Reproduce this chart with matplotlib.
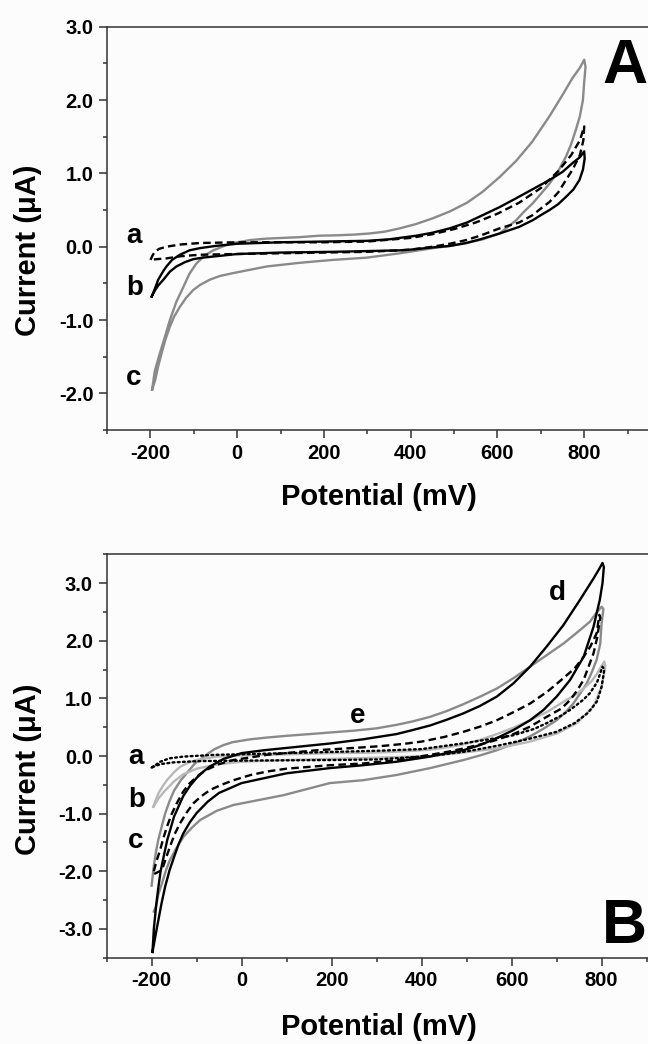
import matplotlib
matplotlib.use("Agg")
import matplotlib.pyplot as plt
from matplotlib.ticker import MultipleLocator, FormatStrFormatter

plt.rcParams['font.family'] = ['Liberation Sans', 'DejaVu Sans']
plt.rcParams['font.weight'] = 'bold'
plt.rcParams['axes.unicode_minus'] = False

# ---------------- Panel A data (potential in mV, current in uA) ----------------
a1_fx = [-200, -195, -190, -180, -163, -130, -86, 0, 100, 200, 300, 400, 450, 500, 550, 600, 650, 700, 740, 770, 790, 800]
a1_fy = [-0.18, -0.12, -0.07, -0.03, 0.0, 0.03, 0.05, 0.06, 0.06, 0.06, 0.07, 0.12, 0.17, 0.24, 0.33, 0.45, 0.6, 0.8, 1.03, 1.25, 1.45, 1.64]
a1_rx = [798, 790, 773, 758, 740, 720, 700, 681, 650, 605, 560, 528, 490, 451, 400, 375, 300, 200, 100, 0, -86, -130, -163, -185, -200]
a1_ry = [1.45, 1.25, 1.05, 0.91, 0.74, 0.61, 0.52, 0.43, 0.33, 0.25, 0.15, 0.09, 0.04, 0.0, -0.04, -0.05, -0.07, -0.08, -0.09, -0.1, -0.11, -0.13, -0.16, -0.17, -0.18]

b1_fx = [-197, -190, -182, -170, -163, -150, -132, -110, -86, -50, 0, 100, 200, 300, 350, 413, 450, 490, 530, 566, 605, 643, 680, 720, 750, 773, 790, 800]
b1_fy = [-0.68, -0.58, -0.45, -0.33, -0.27, -0.18, -0.11, -0.05, -0.02, 0.01, 0.04, 0.06, 0.07, 0.08, 0.1, 0.15, 0.19, 0.25, 0.33, 0.43, 0.54, 0.66, 0.78, 0.91, 1.02, 1.14, 1.22, 1.3]
b1_rx = [801, 797, 789, 775, 758, 740, 720, 700, 681, 650, 605, 560, 528, 490, 451, 400, 375, 300, 221, 100, 0, -48, -80, -101, -120, -140, -155, -170, -182, -190, -197]
b1_ry = [1.2, 1.05, 0.91, 0.78, 0.68, 0.58, 0.5, 0.43, 0.36, 0.27, 0.18, 0.1, 0.05, 0.01, -0.01, -0.04, -0.05, -0.06, -0.07, -0.08, -0.1, -0.13, -0.15, -0.17, -0.21, -0.27, -0.34, -0.45, -0.53, -0.6, -0.68]

c1_fx = [-196, -190, -178, -165, -155, -140, -124, -110, -94, -75, -55, -30, -9, 30, 68, 144, 190, 230, 270, 305, 340, 375, 413, 450, 490, 530, 566, 605, 643, 680, 720, 750, 773, 790, 800]
c1_fy = [-1.95, -1.7, -1.45, -1.2, -1.0, -0.75, -0.55, -0.37, -0.23, -0.12, -0.05, 0.01, 0.05, 0.09, 0.11, 0.13, 0.15, 0.155, 0.165, 0.18, 0.205, 0.25, 0.31, 0.385, 0.48, 0.6, 0.75, 0.95, 1.17, 1.43, 1.78, 2.07, 2.3, 2.44, 2.55]
c1_rx = [803, 800, 797, 790, 781, 770, 758, 740, 720, 700, 681, 660, 643, 605, 566, 528, 490, 451, 375, 298, 221, 144, 68, -9, -40, -63, -85, -101, -118, -132, -145, -155, -165, -174, -182, -189, -196]
c1_ry = [2.45, 2.25, 2.0, 1.78, 1.6, 1.4, 1.23, 1.03, 0.86, 0.72, 0.59, 0.47, 0.36, 0.18, 0.1, 0.05, 0.01, -0.02, -0.09, -0.15, -0.18, -0.22, -0.27, -0.36, -0.4, -0.45, -0.52, -0.59, -0.7, -0.82, -0.95, -1.09, -1.26, -1.45, -1.63, -1.82, -1.95]

# ---------------- Panel B data ----------------
a2_fx = [-200, -190, -181, -160, -129, -60, 0, 100, 196, 300, 400, 493, 550, 604, 650, 678, 710, 730, 760, 774, 790, 802]
a2_fy = [-0.2, -0.15, -0.1, -0.04, -0.01, 0.02, 0.03, 0.05, 0.07, 0.09, 0.12, 0.22, 0.29, 0.36, 0.47, 0.57, 0.7, 0.8, 0.98, 1.09, 1.28, 1.55]
a2_rx = [806, 800, 790, 770, 740, 700, 640, 570, 500, 420, 300, 200, 100, 0, -100, -150, -180, -200]
a2_ry = [1.5, 1.2, 0.95, 0.75, 0.57, 0.42, 0.3, 0.18, 0.08, 0.0, -0.06, -0.07, -0.075, -0.08, -0.09, -0.11, -0.14, -0.2]

b2_fx = [-196, -190, -185, -175, -166, -150, -137, -120, -100, -55, 0, 100, 200, 300, 360, 419, 456, 493, 530, 567, 604, 641, 680, 715, 740, 760, 778, 790, 806]
b2_fy = [-0.88, -0.75, -0.65, -0.52, -0.42, -0.28, -0.19, -0.12, -0.07, -0.01, 0.01, 0.03, 0.05, 0.06, 0.08, 0.11, 0.15, 0.2, 0.28, 0.38, 0.49, 0.62, 0.77, 0.94, 1.05, 1.17, 1.3, 1.43, 1.64]
b2_rx = [808, 800, 782, 745, 700, 641, 567, 493, 419, 300, 200, 100, 0, -50, -100, -130, -150, -170, -185, -196]
b2_ry = [1.55, 1.2, 0.86, 0.57, 0.39, 0.25, 0.13, 0.06, 0.0, -0.03, -0.05, -0.07, -0.1, -0.14, -0.22, -0.32, -0.44, -0.6, -0.74, -0.88]

c2_fx = [-195, -189, -181, -174, -166, -155, -144, -130, -115, -95, -78, -50, -18, 56, 167, 250, 307, 360, 400, 450, 493, 530, 567, 604, 641, 680, 715, 740, 760, 775, 789, 795]
c2_fy = [-2.0, -1.82, -1.63, -1.43, -1.23, -1.0, -0.82, -0.62, -0.47, -0.33, -0.24, -0.14, -0.07, 0.02, 0.1, 0.14, 0.17, 0.21, 0.25, 0.33, 0.42, 0.51, 0.62, 0.76, 0.91, 1.12, 1.35, 1.52, 1.72, 1.9, 2.13, 2.45]
c2_rx = [797, 790, 782, 771, 760, 745, 730, 710, 678, 641, 604, 567, 530, 493, 456, 419, 344, 270, 196, 100, 56, 20, -18, -45, -70, -90, -107, -122, -137, -149, -159, -168, -177, -195]
c2_ry = [2.4, 2.05, 1.78, 1.55, 1.32, 1.13, 0.97, 0.82, 0.68, 0.51, 0.38, 0.28, 0.2, 0.13, 0.07, 0.02, -0.07, -0.13, -0.16, -0.22, -0.27, -0.33, -0.42, -0.5, -0.59, -0.7, -0.82, -0.98, -1.17, -1.36, -1.57, -1.77, -1.98, -2.05]

d2_fx = [-198, -195, -190, -185, -180, -172, -165, -150, -130, -115, -100, -85, -70, -40, 0, 50, 100, 150, 200, 270, 344, 380, 419, 456, 493, 530, 567, 604, 641, 678, 715, 752, 782, 795, 802]
d2_fy = [-3.4, -3.0, -2.6, -2.28, -2.0, -1.7, -1.45, -1.05, -0.7, -0.52, -0.38, -0.27, -0.18, -0.05, 0.05, 0.1, 0.14, 0.18, 0.22, 0.29, 0.38, 0.45, 0.53, 0.63, 0.74, 0.87, 1.03, 1.26, 1.55, 1.9, 2.27, 2.71, 3.08, 3.25, 3.35]
d2_rx = [805, 802, 796, 782, 760, 730, 700, 671, 641, 604, 567, 530, 493, 456, 419, 344, 270, 196, 100, 0, -50, -75, -100, -115, -130, -140, -150, -160, -170, -178, -185, -191, -198]
d2_ry = [3.28, 3.0, 2.71, 2.24, 1.72, 1.32, 1.03, 0.8, 0.62, 0.45, 0.31, 0.19, 0.1, 0.05, -0.01, -0.1, -0.16, -0.21, -0.3, -0.47, -0.64, -0.79, -0.99, -1.15, -1.35, -1.53, -1.75, -1.98, -2.27, -2.56, -2.85, -3.1, -3.4]

e2_fx = [-200, -195, -190, -185, -170, -160, -150, -135, -120, -105, -90, -75, -60, -40, -20, 20, 56, 100, 167, 250, 300, 344, 380, 419, 456, 493, 530, 567, 604, 641, 678, 715, 745, 774, 790, 800]
e2_fy = [-2.25, -1.9, -1.65, -1.45, -1.0, -0.78, -0.6, -0.42, -0.28, -0.14, -0.05, 0.04, 0.12, 0.19, 0.24, 0.29, 0.32, 0.35, 0.39, 0.44, 0.48, 0.54, 0.6, 0.68, 0.78, 0.9, 1.03, 1.17, 1.35, 1.55, 1.75, 1.95, 2.14, 2.33, 2.5, 2.59]
e2_rx = [804, 800, 797, 789, 778, 767, 752, 737, 720, 700, 670, 641, 604, 567, 530, 493, 419, 344, 270, 196, 93, -18, -55, -92, -110, -129, -145, -159, -168, -177, -185, -190, -195]
e2_ry = [2.55, 2.3, 1.95, 1.67, 1.45, 1.26, 1.08, 0.91, 0.76, 0.62, 0.47, 0.34, 0.21, 0.1, 0.01, -0.07, -0.21, -0.33, -0.42, -0.47, -0.68, -0.85, -0.95, -1.11, -1.24, -1.4, -1.6, -1.8, -1.98, -2.21, -2.4, -2.61, -2.7]

GRAY = '#8a8a8a'
LIGHT = '#b8b8b8'
LW = 1.7

fig = plt.figure(figsize=(6.48, 10.44), dpi=100, facecolor='#fcfcfc')
axA = fig.add_axes([107/648, 1 - 430/1044, 564/648, 403.3/1044])
axB = fig.add_axes([106.6/648, 1 - 957.7/1044, 585/648, 403.4/1044])


def loop(ax, fx, fy, rx, ry, **kw):
    ax.plot(fx + rx, fy + ry, lw=LW, solid_joinstyle='round', **kw)


# panel A
loop(axA, c1_fx, c1_fy, c1_rx, c1_ry, color=GRAY)
loop(axA, b1_fx, b1_fy, b1_rx, b1_ry, color='black')
loop(axA, a1_fx, a1_fy, a1_rx, a1_ry, color='black', ls=(0, (3.2, 1.8)))

# panel B
loop(axB, e2_fx, e2_fy, e2_rx, e2_ry, color=GRAY)
loop(axB, b2_fx, b2_fy, b2_rx, b2_ry, color=LIGHT)
loop(axB, a2_fx, a2_fy, a2_rx, a2_ry, color='black', ls=(0, (0.8, 1.4)), dash_capstyle='round')
loop(axB, c2_fx, c2_fy, c2_rx, c2_ry, color='black', ls=(0, (3.2, 1.8)))
loop(axB, d2_fx, d2_fy, d2_rx, d2_ry, color='black')

for ax, ylim, yt in ((axA, (-2.5, 3.0), [-2.0, -1.0, 0.0, 1.0, 2.0, 3.0]),
                     (axB, (-3.5, 3.5), [-3.0, -2.0, -1.0, 0.0, 1.0, 2.0, 3.0])):
    ax.set_facecolor('#fcfcfc')
    ax.set_xlim(-300, 1000)
    ax.set_ylim(*ylim)
    ax.set_xticks([-200, 0, 200, 400, 600, 800])
    ax.set_yticks(yt)
    ax.xaxis.set_minor_locator(MultipleLocator(100))
    ax.yaxis.set_minor_locator(MultipleLocator(0.5))
    ax.yaxis.set_major_formatter(FormatStrFormatter('%.1f'))
    ax.tick_params(which='major', direction='out', length=5.8, width=1.1, pad=4,
                   labelsize=14.5, color='#333333')
    ax.tick_params(which='minor', direction='out', length=3.2, width=1.1, color='#333333')
    for sp in ax.spines.values():
        sp.set_linewidth(1.1)
        sp.set_color('#333333')
    for lab in ax.get_xticklabels() + ax.get_yticklabels():
        lab.set_fontweight('bold')

# curve letters
lbl = dict(fontsize=20, fontweight='bold', ha='left', va='baseline')
axA.text(-256, 0.05, 'a', **lbl)
axA.text(-256, -0.66, 'b', **lbl)
axA.text(-256, -1.89, 'c', **lbl)
axB.text(-252, -0.14, 'a', **lbl)
axB.text(-252, -0.88, 'b', **lbl)
axB.text(-252, -1.6, 'c', **lbl)
axB.text(682, 2.71, 'd', **lbl)
axB.text(241, 0.57, 'e', **lbl)

axA.text(841, 2.23, 'A', fontsize=45, fontweight='bold', ha='left', va='baseline', clip_on=False)
axB.text(800, -3.24, 'B', fontsize=45, fontweight='bold', ha='left', va='baseline', clip_on=False)

# axis titles
fig.text(379/648, 1 - 497/1044, 'Potential (mV)', fontsize=21, fontweight='bold', ha='center', va='center')
fig.text(379/648, 1 - 1027/1044, 'Potential (mV)', fontsize=21, fontweight='bold', ha='center', va='center')
fig.text(28/648, 1 - 250/1044, 'Current (\u03bcA)', fontsize=21, fontweight='bold', ha='center', va='center', rotation=90)
fig.text(28/648, 1 - 769/1044, 'Current (\u03bcA)', fontsize=21, fontweight='bold', ha='center', va='center', rotation=90)

fig.savefig('out.png', dpi=100, facecolor=fig.get_facecolor())
